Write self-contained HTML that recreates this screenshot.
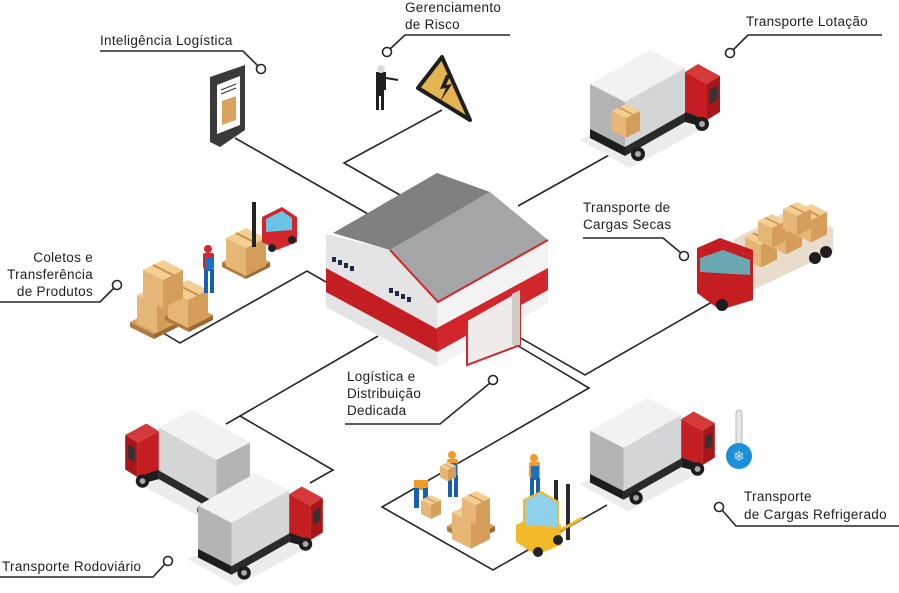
<!DOCTYPE html>
<html><head><meta charset="utf-8">
<style>
html,body{margin:0;padding:0;background:#fff;}
svg{display:block;}
text{font-family:"Liberation Sans",sans-serif;font-size:13.5px;fill:#1e1e1e;letter-spacing:0.3px;}
</style></head><body>
<svg width="899" height="593" viewBox="0 0 899 593" xmlns="http://www.w3.org/2000/svg">
<defs>
  <g id="box">
    <polygon points="0,-10 20,-20 40,-10 20,0" fill="#f3cf94"/>
    <polygon points="0,-10 20,0 20,28 0,18" fill="#e6b677"/>
    <polygon points="20,0 40,-10 40,18 20,28" fill="#d49d5a"/>
    <line x1="10" y1="-15" x2="30" y2="-5" stroke="#c98f4c" stroke-width="2"/>
  </g>
  <g id="pallet">
    <polygon points="0,0 24,12 48,0 24,-12" fill="#d9a25c"/>
    <polygon points="0,0 24,12 24,17 0,5" fill="#b07a3c"/>
    <polygon points="24,12 48,0 48,5 24,17" fill="#9a6830"/>
  </g>
  <g id="truck">
    <polygon points="-10,90 40,118 110,80 60,52" fill="#ececec"/>
    <polygon points="0,34 60,0 95,18 35,52" fill="#f2f2f2"/>
    <polygon points="0,34 35,52 35,97 0,79" fill="#b4b4b4"/>
    <polygon points="35,52 95,18 95,63 35,97" fill="#d4d5d7"/>
    <polygon points="0,79 35,97 35,106 0,88" fill="#1d1d1d"/>
    <polygon points="35,97 95,63 95,72 35,106" fill="#2a2a2a"/>
    <polygon points="95,22 108,14 130,26 117,34" fill="#d43a3a"/>
    <polygon points="95,22 117,34 117,70 95,66" fill="#c41e22"/>
    <polygon points="117,34 130,26 130,62 117,70" fill="#a8161a"/>
    <polygon points="120,40 127,36 127,50 120,54" fill="#333"/>
    <polygon points="95,62 117,70 117,78 95,72" fill="#1d1d1d"/>
    <circle cx="48" cy="104" r="7" fill="#1d1d1d"/><circle cx="48" cy="104" r="3" fill="#aaa"/>
    <circle cx="112" cy="74" r="7" fill="#1d1d1d"/><circle cx="112" cy="74" r="3" fill="#aaa"/>
  </g>
  <g id="worker">
    <circle cx="6" cy="4" r="4" fill="#f39a2b"/>
    <rect x="1" y="8" width="11" height="16" rx="2" fill="#f39a2b"/>
    <rect x="3" y="12" width="8" height="14" fill="#1c6fc4"/>
    <rect x="2" y="24" width="4" height="22" fill="#1a5fae"/>
    <rect x="8" y="24" width="4" height="22" fill="#1a5fae"/>
  </g>
</defs>

<g stroke="#262626" stroke-width="1.6" fill="none">
  <!-- Inteligencia -->
  <polyline points="100,51 243,51 258,66"/>
  <line x1="235" y1="138" x2="368" y2="214"/>
  <!-- Gerenciamento -->
  <polyline points="390,49 405,35 510,35"/>
  <polyline points="442,110 344,163 400,195"/>
  <!-- Lotacao -->
  <polyline points="733,50 748,35 882,35"/>
  <line x1="627" y1="145" x2="518" y2="206"/>
  <!-- Cargas secas -->
  <polyline points="583,238 663,238 681,253"/>
  <polyline points="498,325 585,375 712,302"/>
  <!-- Coletos -->
  <polyline points="114,288 100,302 0,302"/>
  <polyline points="326,282 307,271 180,343 160,331"/>
  <!-- Rodoviario -->
  <polyline points="0,577 153,577 165,564"/>
  <polyline points="378,336 240,416 226,424"/>
  <polyline points="240,416 333,470 310,483"/>
  <!-- Logistica -->
  <polyline points="345,424 440,424 490,383"/>
  <polyline points="488,328 589,388 382,507 493,570 607,505"/>
  <!-- Refrigerado -->
  <polyline points="722,510 736,526 899,526"/>
</g>
<g fill="#fff" stroke="#262626" stroke-width="1.6">
  <circle cx="261" cy="69" r="4.5"/>
  <circle cx="387" cy="52" r="4.5"/>
  <circle cx="730" cy="53" r="4.5"/>
  <circle cx="684" cy="256" r="4.5"/>
  <circle cx="117" cy="285" r="4.5"/>
  <circle cx="168" cy="561" r="4.5"/>
  <circle cx="493" cy="380" r="4.5"/>
  <circle cx="719" cy="507" r="4.5"/>
</g>

<!-- labels -->
<text x="100" y="45">Inteligência Logística</text>
<text x="405" y="12">Gerenciamento</text>
<text x="405" y="29">de Risco</text>
<text x="746" y="26">Transporte Lotação</text>
<text x="583" y="212">Transporte de</text>
<text x="583" y="229">Cargas Secas</text>
<text x="93" y="262" text-anchor="end">Coletos e</text>
<text x="93" y="279" text-anchor="end">Transferência</text>
<text x="93" y="296" text-anchor="end">de Produtos</text>
<text x="347" y="381">Logística e</text>
<text x="347" y="398">Distribuição</text>
<text x="347" y="415">Dedicada</text>
<text x="2" y="571">Transporte Rodoviário</text>
<text x="744" y="501">Transporte</text>
<text x="744" y="519">de Cargas Refrigerado</text>

<!-- phone -->
<polygon points="210,77 245,65 245,130 220,147 210,142" fill="#3a3a3a"/>
<polygon points="217,85 240,76 240,125 217,134" fill="#fff"/>
<polygon points="222,101 236,96 236,120 222,125" fill="#d9a25c"/>
<line x1="221" y1="90" x2="236" y2="84" stroke="#333" stroke-width="1"/>
<line x1="221" y1="94" x2="236" y2="88" stroke="#333" stroke-width="1"/>

<!-- risk -->
<path d="M376,72 h10 v18 h-2 v20 h-3 v-14 h-2 v14 h-3 z" fill="#1f1f1f"/>
<circle cx="381" cy="69" r="4" fill="#ddd"/>
<line x1="386" y1="78" x2="398" y2="80" stroke="#1f1f1f" stroke-width="2"/>
<polygon points="418,88 442,57 470,120" fill="#e5b552" stroke="#1f1f1f" stroke-width="4" stroke-linejoin="round"/>
<polygon points="446,75 440,89 446,88 440,102 452,84 446,85 451,74" fill="#1f1f1f"/>

<!-- warehouse -->
<polygon points="326,234 390,250 437,300 437,367 326,307" fill="#e4e4e4"/>
<polygon points="326,268 437,329 437,352 326,292" fill="#c41e22"/>
<polygon points="437,300 548,240 548,303 437,367" fill="#f3f3f3"/>
<polygon points="437,328 548,268 548,290 437,352" fill="#d1262b"/>
<polygon points="467,320 520,290 520,345 467,365" fill="#eeebe8" stroke="#d1262b" stroke-width="2"/>
<polygon points="512,294 520,290 520,345 512,345" fill="#cfcac5"/>
<polygon points="333,233 437,173 490,192 390,250" fill="#7f8081"/>
<polygon points="390,250 490,192 548,240 438,302" fill="#a3a5a6"/>
<polyline points="390,250 438,302 548,240" fill="none" stroke="#d1262b" stroke-width="2"/>
<g fill="#1f2a44">
<rect x="332" y="257" width="4" height="5"/><rect x="338" y="260" width="4" height="5"/><rect x="344" y="263" width="4" height="5"/><rect x="350" y="266" width="4" height="5"/>
<rect x="389" y="288" width="4" height="5"/><rect x="395" y="291" width="4" height="5"/><rect x="401" y="294" width="4" height="5"/><rect x="407" y="297" width="4" height="5"/>
</g>

<!-- coletos group -->
<use href="#pallet" x="130" y="322"/>
<use href="#box" x="137" y="305"/>
<use href="#pallet" x="165" y="315"/>
<use href="#box" x="168" y="300"/>
<use href="#box" x="143" y="280"/>
<use href="#pallet" x="222" y="262"/>
<use href="#box" x="226" y="248"/>
<g transform="translate(252,202)">
  <rect x="0" y="0" width="4" height="45" fill="#222"/>
  <polygon points="10,15 30,5 45,15 45,40 25,48 10,40" fill="#d1262b"/>
  <polygon points="14,17 30,9 40,16 40,28 14,30" fill="#6ac4e6"/>
  <circle cx="20" cy="46" r="4" fill="#222"/><circle cx="40" cy="38" r="4" fill="#222"/>
</g>
<g transform="translate(200,245)">
  <circle cx="8" cy="4" r="4" fill="#d1262b"/>
  <rect x="3" y="8" width="11" height="16" rx="2" fill="#d1262b"/>
  <rect x="5" y="12" width="8" height="14" fill="#1c6fc4"/>
  <rect x="4" y="24" width="4" height="24" fill="#1a5fae"/>
  <rect x="10" y="24" width="4" height="24" fill="#1a5fae"/>
</g>

<!-- trucks -->
<use href="#truck" transform="translate(590,50)"/>
<use href="#box" transform="translate(612,118) scale(0.7)"/>
<use href="#truck" transform="translate(590,398) scale(0.96)"/>
<use href="#truck" transform="translate(250,410) scale(-0.96,0.96)"/>
<use href="#truck" transform="translate(198,473) scale(0.96)"/>

<!-- cargas secas truck -->
<polygon points="733,240 793,208 833,228 833,252 753,290" fill="#e8dccc"/>
<use href="#box" transform="translate(745,245) scale(0.8)"/>
<use href="#box" transform="translate(770,232) scale(0.8)"/>
<use href="#box" transform="translate(795,220) scale(0.8)"/>
<use href="#box" transform="translate(758,228) scale(0.7)"/>
<use href="#box" transform="translate(783,216) scale(0.7)"/>
<polygon points="697,248 720,238 753,250 753,300 720,310 697,293" fill="#c41e22"/>
<polygon points="700,258 723,250 750,260 750,275 700,272" fill="#6aa7b3"/>
<circle cx="722" cy="305" r="6" fill="#1d1d1d"/><circle cx="815" cy="258" r="6" fill="#1d1d1d"/><circle cx="826" cy="252" r="6" fill="#1d1d1d"/>

<!-- thermometer -->
<rect x="736" y="410" width="6" height="38" rx="3" fill="#e6e6e6" stroke="#bbb"/>
<circle cx="739" cy="456" r="13" fill="#1b8fd8"/>
<text x="739" y="461" text-anchor="middle" style="fill:#cfe8ff;font-size:14px">❄</text>

<!-- bottom workers -->
<use href="#worker" x="446" y="451"/>
<use href="#worker" x="528" y="454"/>
<g transform="translate(414,480)"><rect x="0" y="0" width="14" height="10" fill="#f39a2b"/><rect x="0" y="8" width="5" height="20" fill="#1a5fae"/><rect x="9" y="8" width="5" height="20" fill="#1a5fae"/></g>
<use href="#box" transform="translate(421,505) scale(0.5)"/>
<use href="#box" transform="translate(440,470) scale(0.4)"/>
<use href="#pallet" transform="translate(447,526) scale(1)"/>
<use href="#box" transform="translate(452,522) scale(0.95)"/>
<use href="#box" transform="translate(462,505) scale(0.7)"/>
<g transform="translate(516,480)">
  <rect x="38" y="0" width="4" height="60" fill="#2a2a2a"/>
  <rect x="50" y="4" width="4" height="56" fill="#2a2a2a"/>
  <polygon points="0,45 20,35 45,45 45,65 20,75 0,62" fill="#f2b92a"/>
  <polygon points="8,20 25,12 42,22 42,48 8,46" fill="#8fd0ea" stroke="#f2b92a" stroke-width="2"/>
  <circle cx="22" cy="72" r="5" fill="#222"/><circle cx="42" cy="60" r="5" fill="#222"/>
  <line x1="45" y1="50" x2="66" y2="38" stroke="#f2b92a" stroke-width="3"/>
</g>
</svg>
</body></html>
